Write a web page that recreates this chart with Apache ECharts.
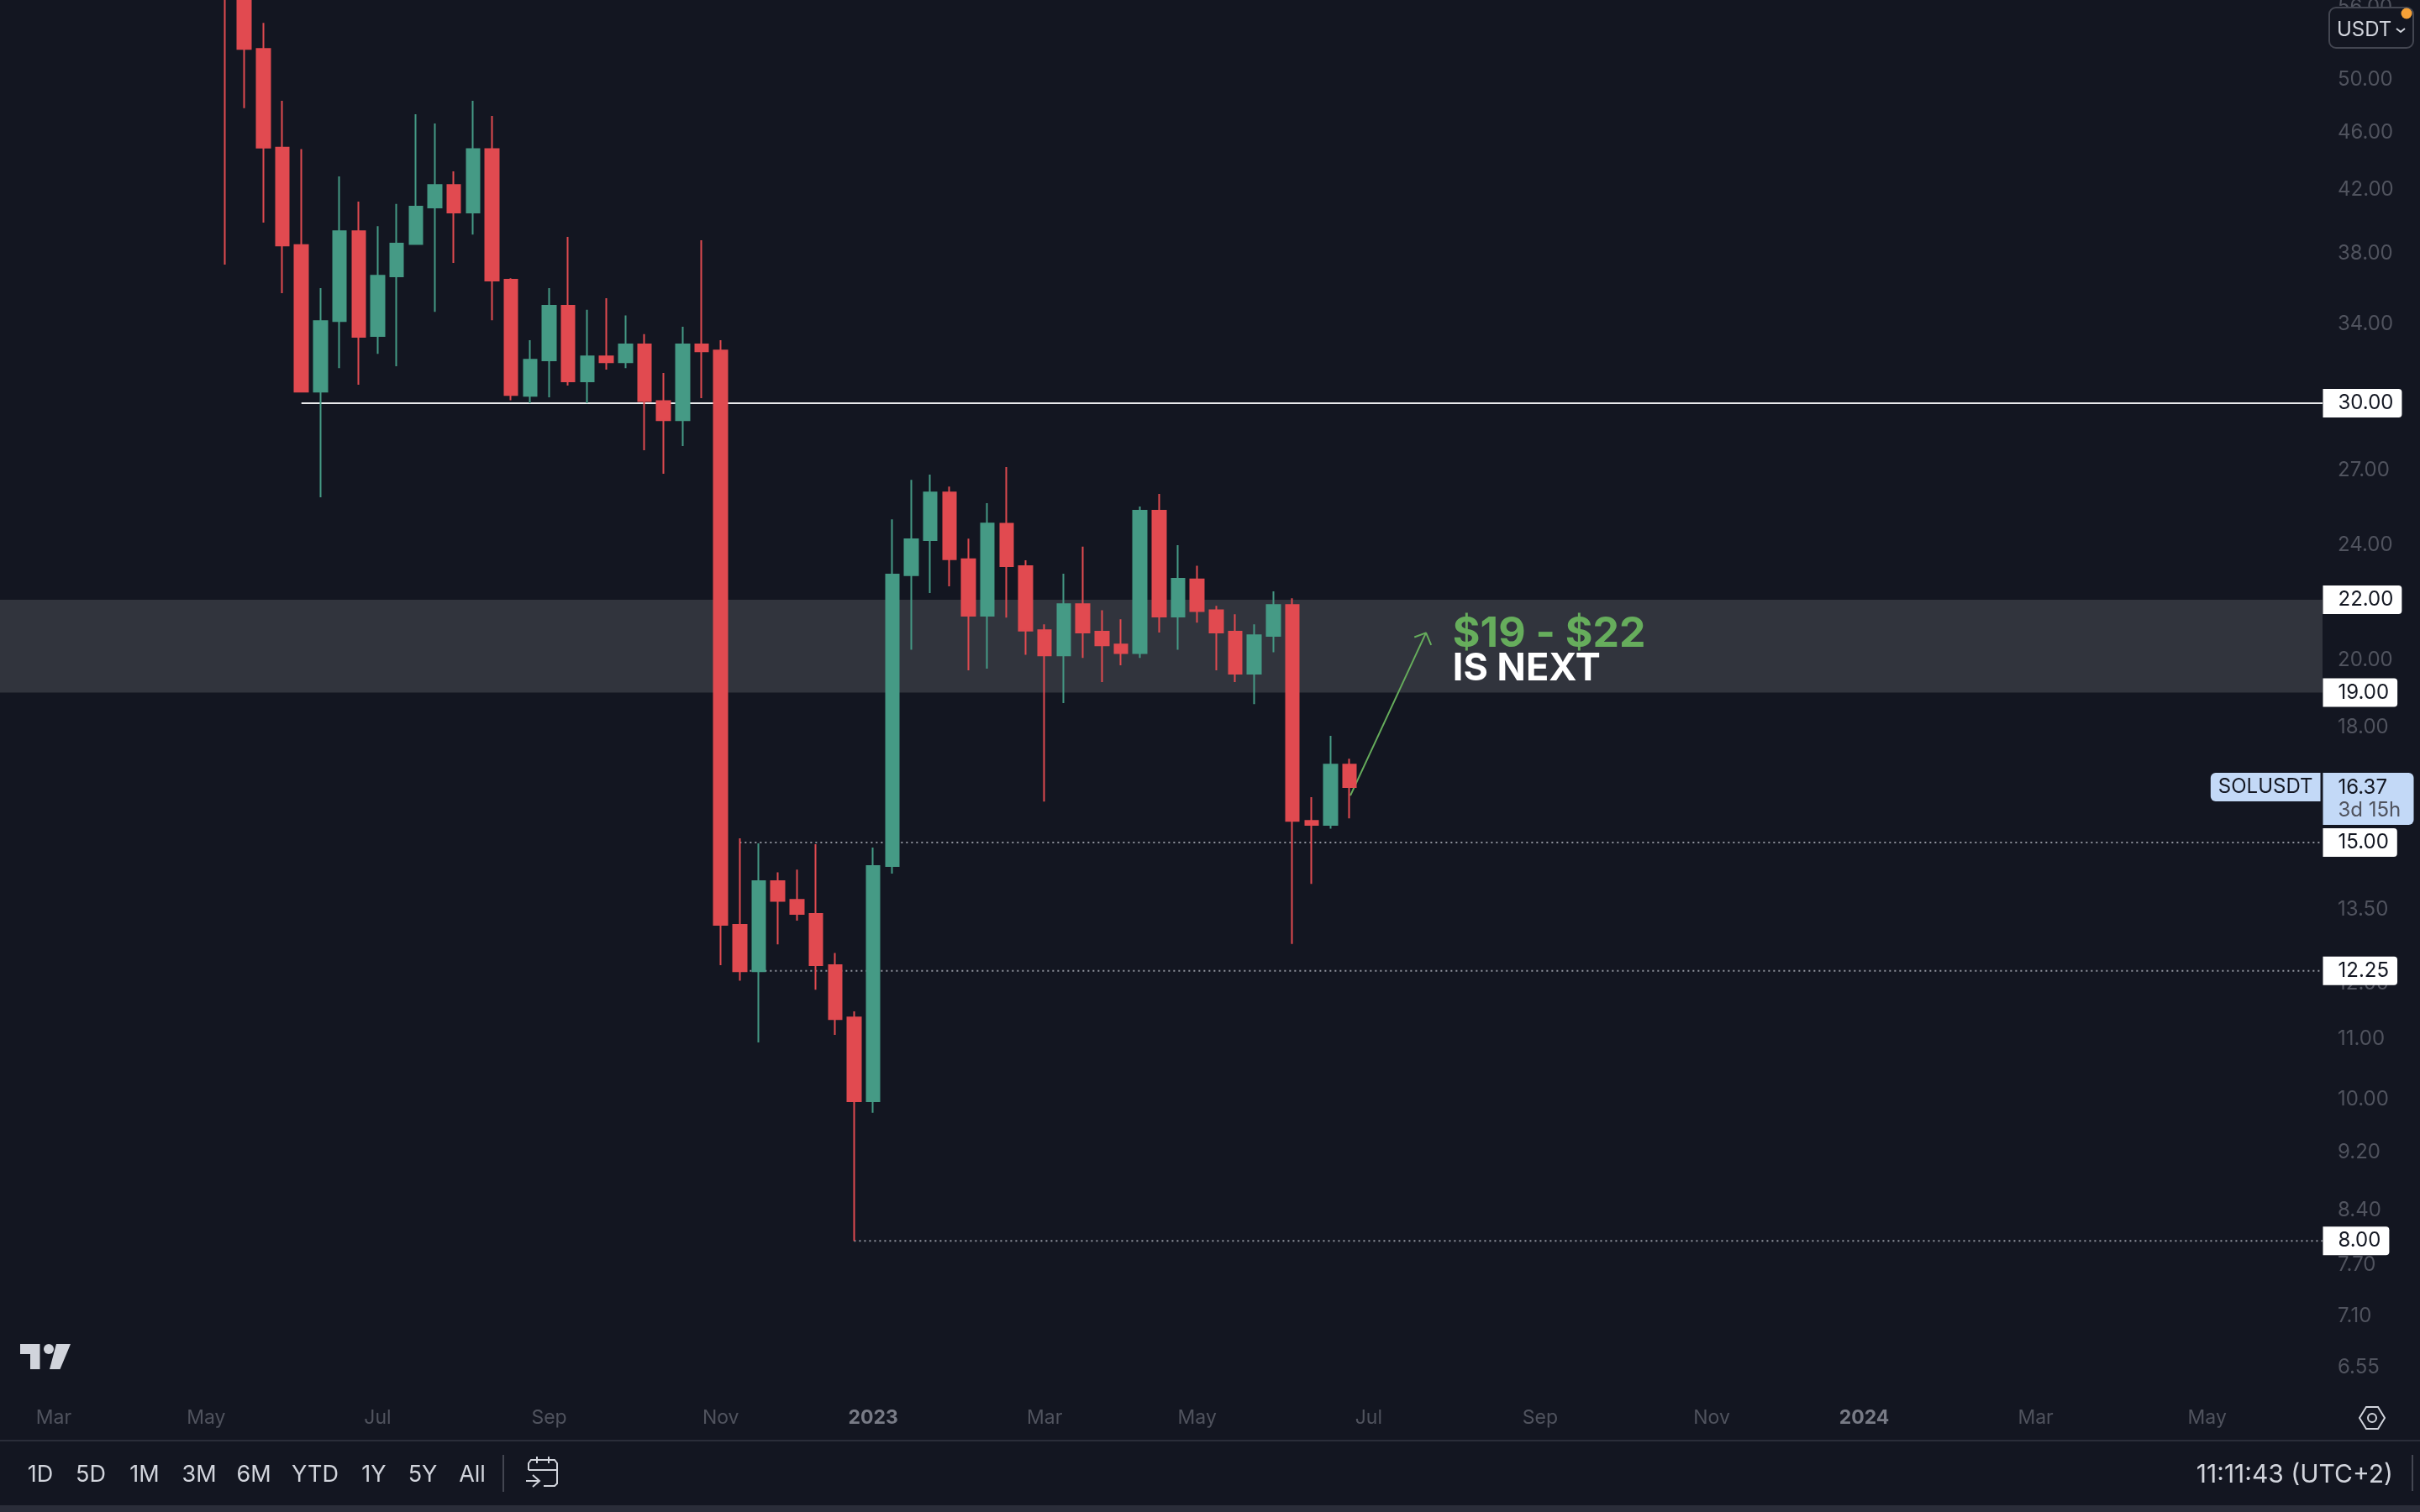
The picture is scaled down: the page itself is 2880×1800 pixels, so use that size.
<!DOCTYPE html>
<html>
<head>
<meta charset="utf-8">
<title>SOLUSDT</title>
<script src="https://cdn.jsdelivr.net/npm/echarts@6/dist/echarts.min.js"></script>
<style>
  html, body { margin: 0; padding: 0; background: #131621; }
  #main { width: 2880px; height: 1800px; }
</style>
</head>
<body>
<div id="main"></div>
<script>
// weekly candles, oldest first, last one is the week of 2023-06-26
const opens = [84, 60, 52.46, 44.9, 38.5, 30.55, 34.15, 39.35, 33.35, 36.65,
  38.57, 40.86, 42.33, 40.53, 44.8, 36.45, 30.35, 32.1, 34.98, 31.05,
  32.3, 32.0, 32.92, 30.1, 29.2, 32.92, 32.6, 13.17, 12.24, 14.11,
  13.7, 13.4, 12.36, 11.38, 9.97, 14.45, 22.87, 24.17, 26.06, 23.45,
  21.45, 24.8, 23.2, 20.97, 20.15, 21.85, 20.92, 20.5, 20.22, 25.32,
  21.42, 22.72, 21.64, 20.92, 19.58, 20.78, 21.82, 15.52, 15.42, 16.96]
const closes = [60, 52.46, 44.9, 38.47, 30.55, 34.15, 39.35, 33.31, 36.68, 38.59,
  40.91, 42.33, 40.53, 44.8, 36.4, 30.39, 32.13, 34.98, 31.05, 32.3,
  32.0, 32.92, 30.1, 29.2, 32.92, 32.56, 13.17, 12.24, 14.11, 13.68,
  13.4, 12.36, 11.35, 9.97, 14.45, 22.89, 24.2, 26.06, 23.45, 21.45,
  24.81, 23.2, 20.95, 20.15, 21.85, 20.89, 20.47, 20.22, 25.32, 21.42,
  22.74, 21.61, 20.89, 19.58, 20.8, 21.82, 15.52, 15.42, 16.96, 16.37]
const lows = [37.33, 47.79, 39.89, 35.69, 30.55, 25.86, 31.71, 30.89, 32.43, 31.8,
  38.57, 34.65, 37.43, 39.15, 34.2, 30.14, 30, 30.28, 30.85, 30,
  31.63, 31.71, 27.85, 26.84, 28.04, 30.24, 12.36, 12.06, 10.94, 12.77,
  13.26, 11.89, 11.07, 8, 9.79, 14.28, 20.33, 22.23, 22.47, 19.68,
  19.73, 21.39, 20.17, 16, 18.69, 20.07, 19.32, 19.84, 20.07, 20.89,
  20.33, 21.22, 19.68, 19.32, 18.66, 20.25, 12.78, 14.05, 15.33, 15.58]
const highs = [90, 63, 54.67, 48.34, 44.8, 35.97, 42.91, 41.24, 39.67, 41.08,
  47.33, 46.65, 43.25, 48.34, 47.21, 36.54, 33.14, 35.97, 39, 34.77,
  35.41, 34.46, 33.45, 31.47, 33.84, 38.8, 33.14, 15.1, 14.98, 14.31,
  14.37, 14.96, 12.6, 11.49, 14.88, 24.98, 26.58, 26.8, 26.3, 24.23,
  25.62, 27.12, 23.41, 21.16, 22.92, 23.92, 21.64, 21.33, 25.49, 26,
  23.98, 23.21, 21.79, 21.5, 21.16, 22.29, 22.05, 16.11, 17.75, 17.12]

// price axis
const priceTicks = [56, 50, 46, 42, 38, 34, 27, 24, 20, 18, 13.5, 12, 11, 10, 9.2, 8.4, 7.7, 7.1, 6.55]
const levelPrices = [30, 15, 12.25, 8]
const levelStartWeeks = [4, 27, 27, 33]
const zoneTop = 22
const zoneBottom = 19
const zoneTags = [22, 19]
const lastPrice = 16.37

// time axis, in weeks counted from the first candle
const tickWeeks = [-9, -1, 8, 17, 26, 34, 43, 51, 60, 69, 78, 86, 95, 104]
const tickNames = ['Mar', 'May', 'Jul', 'Sep', 'Nov', '2023', 'Mar', 'May', 'Jul', 'Sep', 'Nov', '2024', 'Mar', 'May']

// arrow drawn on the chart: [week, price]
const arrowShaft = [[59.04, 16.15], [63.01, 20.88]]
const arrowHead = [[62.4, 20.74], [63.01, 20.88], [63.28, 20.48]]

const rangeButtons = ['1D', '5D', '1M', '3M', '6M', 'YTD', '1Y', '5Y', 'All']
const rangeButtonX = [48, 108, 172, 237, 302, 375, 445, 503, 562]

const barStep = 22.68
const xMin = -268 / barStep
const xMax = (2764 - 268) / barStep

const UP = '#459a85'
const DOWN = '#e14a50'
const BG = '#131621'
const GRAY = '#50535e'
const LIGHT = '#d1d4dc'
const FONT = 'Inter'

const candles = opens.map((o, i) => [i, o, closes[i], lows[i], highs[i]])

const levelLines = levelPrices.map((p, i) => ({
  type: 'line',
  z: 1,
  silent: true,
  symbol: 'none',
  lineStyle: p === 30
    ? { color: '#e9eaec', width: 2 }
    : { color: '#8f929c', width: 2, type: [2, 4] },
  data: [[levelStartWeeks[i], p], [xMax, p]]
}))

const tagData = levelPrices.concat(zoneTags).map((p) => [xMax, p])

const option = {
  backgroundColor: BG,
  animation: false,
  tooltip: { show: false },
  // outerBoundsMode none, otherwise the half cut 56.00 label pushes the grid down
  grid: { left: 0, right: 116, top: 0, height: 1660, outerBoundsMode: 'none' },
  xAxis: {
    type: 'value',
    min: xMin,
    max: xMax,
    axisLine: { show: false },
    axisTick: { show: false },
    splitLine: { show: false },
    axisLabel: {
      customValues: tickWeeks,
      margin: 17,
      fontFamily: FONT,
      fontSize: 23,
      color: GRAY,
      hideOverlap: false,
      formatter(v) {
        const name = tickNames[tickWeeks.indexOf(v)] || ''
        return name.length === 4 ? '{y|' + name + '}' : name
      },
      rich: { y: { fontFamily: FONT, fontSize: 23, fontWeight: 'bold', color: '#787b86' } }
    }
  },
  yAxis: {
    type: 'log',
    logBase: 10,
    min: 6.278,
    max: 56.68,
    position: 'right',
    axisLine: { show: false },
    axisTick: { show: false },
    splitLine: { show: false },
    minorSplitLine: { show: false },
    axisLabel: {
      customValues: priceTicks,
      margin: 18,
      padding: [4, 0, 0, 0],
      fontFamily: FONT,
      fontSize: 24,
      color: GRAY,
      formatter: (v) => Number(v).toFixed(2)
    }
  },
  series: [
    {
      type: 'candlestick',
      z: 2,
      barWidth: 16,
      silent: true,
      itemStyle: { color: UP, color0: DOWN, borderColor: UP, borderColor0: DOWN, borderWidth: 2 },
      markArea: {
        silent: true,
        z: 0,
        itemStyle: { color: '#31343d' },
        data: [[{ yAxis: zoneTop }, { yAxis: zoneBottom }]]
      },
      data: candles
    },
    ...levelLines,
    {
      type: 'line',
      z: 1,
      silent: true,
      symbol: 'none',
      lineStyle: { color: '#66ad5c', width: 2 },
      data: arrowShaft
    },
    {
      type: 'line',
      z: 3,
      silent: true,
      symbol: 'none',
      lineStyle: { color: '#66ad5c', width: 2 },
      data: arrowHead
    },
    // white price tags on the axis
    {
      type: 'scatter',
      z: 6,
      clip: false,
      silent: true,
      symbolSize: 1,
      itemStyle: { color: 'transparent', opacity: 1 },
      label: {
        show: true,
        position: 'right',
        distance: 0,
        fontFamily: FONT,
        fontSize: 24,
        lineHeight: 26,
        color: '#131722',
        backgroundColor: '#ffffff',
        borderRadius: [0, 4, 4, 0],
        padding: [5, 10, 3, 18],
        formatter: (p) => p.value[1].toFixed(2)
      },
      data: tagData
    },
    // last price tags
    {
      type: 'scatter',
      z: 7,
      clip: false,
      silent: true,
      symbolSize: 1,
      itemStyle: { color: 'transparent', opacity: 1 },
      data: [
        {
          value: [xMax, lastPrice],
          label: {
            show: true,
            position: 'right',
            distance: 0,
            offset: [0, 14],
            backgroundColor: '#c3d9f7',
            borderRadius: [0, 6, 6, 0],
            padding: [4, 12, 4, 18],
            formatter: '{p|16.37}\n{t|3d 15h}',
            rich: {
              p: { fontFamily: FONT, fontSize: 24, lineHeight: 27, color: '#131722', width: 78 },
              t: { fontFamily: FONT, fontSize: 24, lineHeight: 27, color: '#50535e', width: 78 }
            }
          }
        },
        {
          value: [xMax, lastPrice],
          label: {
            show: true,
            position: 'left',
            distance: 2,
            fontFamily: FONT,
            fontSize: 24,
            lineHeight: 26,
            color: '#131722',
            backgroundColor: '#c3d9f7',
            borderRadius: [6, 0, 0, 6],
            padding: [4, 9, 4, 9],
            formatter: 'SOLUSDT'
          }
        }
      ]
    },
    // note next to the arrow
    {
      type: 'scatter',
      z: 7,
      clip: false,
      silent: true,
      symbolSize: 1,
      itemStyle: { color: 'transparent', opacity: 1 },
      data: [
        {
          value: [64.39, 20.85],
          label: { show: true, position: 'right', distance: 0, formatter: '$19 - $22',
            fontFamily: FONT, fontWeight: 'bold', fontSize: 50, color: '#66ad5c' }
        },
        {
          value: [64.39, 19.73],
          label: { show: true, position: 'right', distance: 0, formatter: 'IS NEXT',
            fontFamily: FONT, fontWeight: 'bold', fontSize: 45, color: '#ffffff' }
        }
      ]
    }
  ],
  // screen furniture around the plot
  graphic: [
    { type: 'rect', z: 20, shape: { x: 0, y: 1714, width: 2880, height: 2 }, style: { fill: '#2a2d39' } },
    { type: 'rect', z: 20, shape: { x: 0, y: 1792, width: 2880, height: 8 }, style: { fill: '#2a2d39' } },
    ...rangeButtons.map((t, i) => ({
      type: 'text', z: 20,
      style: { text: t, x: rangeButtonX[i], y: 1756, align: 'center', verticalAlign: 'middle',
        font: '27px ' + FONT, fill: LIGHT }
    })),
    { type: 'rect', z: 20, shape: { x: 598, y: 1732, width: 2, height: 44 }, style: { fill: '#434651' } },
    { type: 'polyline', z: 20, shape: { points: [[629, 1750], [629, 1742], [632, 1738], [660, 1738], [663, 1742], [663, 1766], [660, 1769], [647, 1769]] },
      style: { stroke: LIGHT, lineWidth: 2, fill: null } },
    { type: 'line', z: 20, shape: { x1: 629, y1: 1750, x2: 663, y2: 1750 }, style: { stroke: LIGHT, lineWidth: 2 } },
    { type: 'line', z: 20, shape: { x1: 639, y1: 1734, x2: 639, y2: 1742 }, style: { stroke: LIGHT, lineWidth: 2 } },
    { type: 'line', z: 20, shape: { x1: 653, y1: 1734, x2: 653, y2: 1742 }, style: { stroke: LIGHT, lineWidth: 2 } },
    { type: 'line', z: 20, shape: { x1: 626, y1: 1763, x2: 642, y2: 1763 }, style: { stroke: LIGHT, lineWidth: 2 } },
    { type: 'polyline', z: 20, shape: { points: [[634, 1756], [642, 1763], [634, 1770]] }, style: { stroke: LIGHT, lineWidth: 2, fill: null } },
    { type: 'text', z: 20, style: { text: '11:11:43 (UTC+2)', x: 2848, y: 1756, align: 'right', verticalAlign: 'middle',
        font: '30px ' + FONT, fill: LIGHT } },
    { type: 'rect', z: 20, shape: { x: 2870, y: 1732, width: 2, height: 43 }, style: { fill: '#434651' } },
    // settings hexagon
    { type: 'polygon', z: 20, shape: { points: [[2808, 1688], [2816, 1675], [2830, 1675], [2838, 1688], [2830, 1701], [2816, 1701]] },
      style: { stroke: LIGHT, lineWidth: 2, fill: null } },
    { type: 'circle', z: 20, shape: { cx: 2823, cy: 1688, r: 5 }, style: { stroke: LIGHT, lineWidth: 2, fill: null } },
    // logo
    { type: 'polygon', z: 20, shape: { points: [[24, 1600], [47.5, 1600], [47.5, 1630], [36, 1630], [36, 1612], [24, 1612]] }, style: { fill: LIGHT } },
    { type: 'circle', z: 20, shape: { cx: 58, cy: 1606, r: 6 }, style: { fill: LIGHT } },
    { type: 'polygon', z: 20, shape: { points: [[67, 1600], [84, 1600], [71.5, 1630], [59, 1630]] }, style: { fill: LIGHT } },
    // currency button
    { type: 'rect', z: 20, shape: { x: 2772, y: 9, width: 100, height: 48, r: 8 }, style: { fill: BG, stroke: '#434651', lineWidth: 2 } },
    { type: 'text', z: 21, style: { text: 'USDT', x: 2781, y: 36, align: 'left', verticalAlign: 'middle', font: '24px ' + FONT, fill: LIGHT } },
    { type: 'polyline', z: 21, shape: { points: [[2852, 34], [2857, 38], [2862, 34]] }, style: { stroke: LIGHT, lineWidth: 2, fill: null } },
    { type: 'circle', z: 21, shape: { cx: 2864, cy: 16, r: 6.5 }, style: { fill: '#f6a137' } }
  ]
}

const myChart = echarts.init(document.getElementById('main'), null, { renderer: 'canvas' })
myChart.setOption(option)
</script>
</body>
</html>
